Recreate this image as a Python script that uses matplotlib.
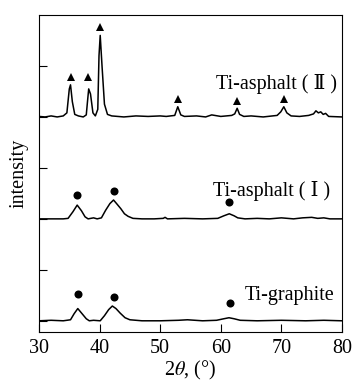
import matplotlib
matplotlib.use("Agg")
import matplotlib.pyplot as plt

plt.rcParams['font.family'] = ['Liberation Serif', 'DejaVu Serif', 'Noto Sans CJK SC']
plt.rcParams['mathtext.fontset'] = 'stix'

# traced pattern, Ti-asphalt (II)
x_a2 = [30, 31, 32, 33, 34, 34.6, 35.0, 35.2, 35.5, 35.9, 36.5, 37.3, 37.8, 38.0, 38.2, 38.5,
        38.9, 39.3, 39.7, 39.9, 40.1, 40.4, 40.8, 41.3, 42, 44, 46, 48, 50, 51, 52.4, 52.9,
        53.4, 54, 56, 57.5, 58.5, 60, 61.8, 62.3, 62.7, 63.1, 63.8, 65, 67, 69.3, 69.9, 70.4,
        70.9, 71.6, 73, 74.5, 75.3, 75.7, 76.1, 76.5, 76.9, 77.3, 77.8, 80]
y_a2 = [0.01, 0.0, 0.02, 0.0, 0.02, 0.08, 0.55, 0.63, 0.3, 0.05, 0.02, 0.0, 0.04, 0.3, 0.55, 0.45,
        0.08, 0.02, 0.15, 1.2, 1.6, 1.0, 0.25, 0.05, 0.02, 0.0, 0.02, 0.01, 0.02, 0.01, 0.03, 0.2,
        0.04, 0.01, 0.02, 0.0, 0.04, 0.01, 0.03, 0.06, 0.17, 0.05, 0.01, 0.02, 0.0, 0.03, 0.1, 0.2,
        0.08, 0.02, 0.01, 0.03, 0.06, 0.12, 0.08, 0.1, 0.05, 0.07, 0.01, 0.0]

# Ti-asphalt (I)
x_a1 = [30, 32, 34, 34.8, 35.6, 36.3, 37.0, 37.6, 38.1, 39, 39.6, 40.3, 41.0, 41.7, 42.3, 42.8,
        43.5, 44.1, 44.7, 45.5, 47, 49, 50.5, 50.8, 51.2, 54, 57, 59.5, 60.5, 61.4, 62.2, 62.8,
        64, 66, 68, 70, 72, 73.5, 75, 76, 77, 78, 80]
y_a1 = [0.0, 0.0, 0.0, 0.01, 0.14, 0.27, 0.16, 0.04, 0.0, 0.02, 0.0, 0.02, 0.17, 0.3, 0.37, 0.3,
        0.2, 0.1, 0.05, 0.01, 0.0, 0.0, 0.01, 0.03, 0.0, 0.01, 0.0, 0.01, 0.06, 0.1, 0.06, 0.02,
        0.0, 0.01, 0.0, 0.02, 0.0, 0.02, 0.03, 0.01, 0.02, 0.0, 0.0]

# Ti-graphite
x_gr = [30, 32, 34, 35.2, 35.8, 36.4, 37.1, 37.8, 38.3, 39, 40.1, 40.8, 41.5, 42.1, 42.7,
        43.4, 44.2, 45.0, 47, 50, 53, 54.5, 57, 59.3, 60.5, 61.35, 62.2, 63.2, 66, 70, 74, 77, 80]
y_gr = [0.0, 0.01, 0.0, 0.02, 0.14, 0.24, 0.14, 0.04, 0.0, 0.01, 0.0, 0.1, 0.22, 0.29, 0.24,
        0.15, 0.06, 0.02, 0.0, 0.0, 0.01, 0.02, 0.0, 0.01, 0.04, 0.06, 0.04, 0.01, 0.0, 0.01, 0.0, 0.01, 0.0]

offsets = [4, 2, 0]

# peak marks
tri_x = [35.2, 38.1, 40.0, 52.9, 62.7, 70.4]
tri_y = [0.78, 0.78, 1.77, 0.35, 0.31, 0.35]
dot_a1_x = [36.2, 42.4, 61.35]
dot_a1_y = [0.47, 0.54, 0.34]
dot_gr_x = [36.5, 42.4, 61.5]
dot_gr_y = [0.52, 0.46, 0.34]

labels = ["Ti-asphalt ( \u2161 )", "Ti-asphalt ( \u2160 )", "Ti-graphite"]
label_x = [79.2, 78.0, 78.8]
label_y = [4.55, 2.45, 0.41]

fig = plt.figure(figsize=(3.53, 3.87), dpi=100)
ax = fig.add_axes([0.1105, 0.1421, 0.8583, 0.8191])

for xs, ys, off in zip([x_a2, x_a1, x_gr], [y_a2, y_a1, y_gr], offsets):
    ax.plot(xs, [v + off for v in ys], color='black', lw=1.1)

ax.plot(tri_x, [v + offsets[0] for v in tri_y], 'k^', ms=6, mew=0)
ax.plot(dot_a1_x, [v + offsets[1] for v in dot_a1_y], 'ko', ms=5.8, mew=0)
ax.plot(dot_gr_x, [v + offsets[2] for v in dot_gr_y], 'ko', ms=5.8, mew=0)

for t, tx, ty in zip(labels, label_x, label_y):
    ax.text(tx, ty, t, ha='right', va='baseline', fontsize=14.5)

ax.set_xlim(30, 80)
ax.set_ylim(-0.22, 6.0)
ax.set_xticks([30, 40, 50, 60, 70, 80])
ax.set_yticks([0, 1, 2, 3, 4, 5])
ax.set_yticklabels([])
ax.tick_params(direction='in', length=6, width=0.8, labelsize=14.5)
ax.tick_params(axis='x', pad=5)
for s in ax.spines.values():
    s.set_linewidth(0.8)

ax.set_xlabel(r"2$\theta$, (°)", fontsize=14.5, labelpad=1)
ax.set_ylabel("intensity", fontsize=14.5, labelpad=4)

fig.savefig("out.png", dpi=100)
